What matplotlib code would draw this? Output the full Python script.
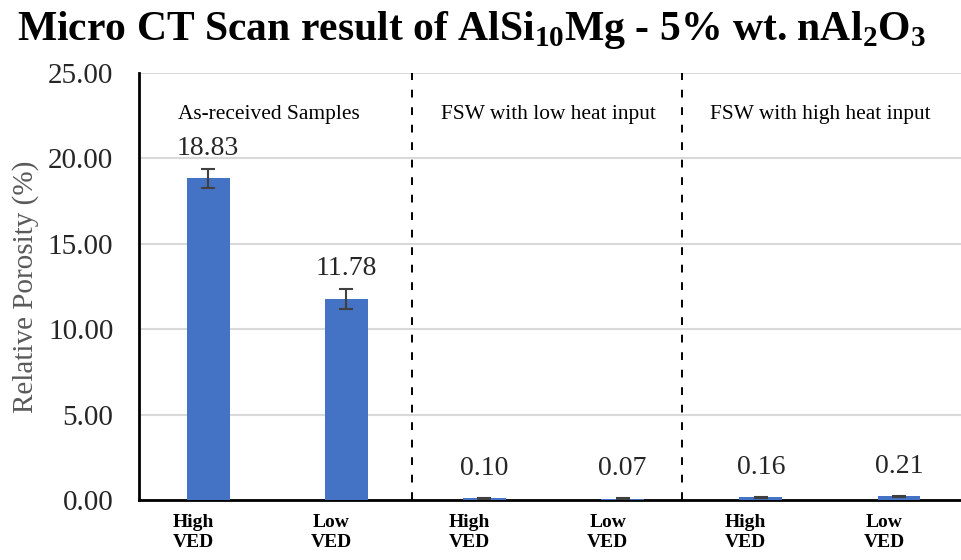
import numpy as np
import matplotlib
matplotlib.use('Agg')
import matplotlib.pyplot as plt
from matplotlib.transforms import ScaledTranslation

# Relative porosity from micro CT, per sample condition
categories = ['High\nVED', 'Low\nVED', 'High\nVED', 'Low\nVED', 'High\nVED', 'Low\nVED']
porosity = [18.83, 11.78, 0.10, 0.07, 0.16, 0.21]
errors = [0.55, 0.60, 0.02, 0.02, 0.03, 0.03]
groups = ['As-received Samples', 'FSW with low heat input', 'FSW with high heat input']
yticks = [0, 5, 10, 15, 20, 25]

plt.rcParams['font.family'] = ['Liberation Serif', 'DejaVu Serif']
plt.rcParams['mathtext.fontset'] = 'custom'
plt.rcParams['mathtext.rm'] = 'Liberation Serif'
plt.rcParams['mathtext.bf'] = 'Liberation Serif:bold'

fig = plt.figure(figsize=(9.62, 5.6), dpi=100)
ax = fig.add_axes([0.1445, 0.1071, 0.8555, 0.7625])

x = np.arange(len(categories))
ax.bar(x, porosity, width=0.31, color='#4472c4', zorder=3)
ax.errorbar(x, porosity, yerr=errors, fmt='none', ecolor='#404040',
            elinewidth=1.5, capsize=5, capthick=1.5, zorder=4)

# Value labels above each bar
for xi, v in zip(x, porosity):
    ax.annotate('{:.2f}'.format(v), (xi, v), xytext=(0, 21.5),
                textcoords='offset points', ha='center', va='center',
                fontsize=20, color='#262626')

# Dashed separators between the three sample groups
for xs in [1.476, 3.43]:
    ax.axvline(xs, color='black', linestyle=(0, (4, 5)), linewidth=1.4, zorder=2)

for xg, g in zip([0.44, 2.46, 4.43], groups):
    ax.text(xg, 22.55, g, ha='center', va='center', fontsize=15.4, color='black')

ax.set_xlim(-0.5, 5.456)
ax.set_ylim(0, 25)
ax.set_yticks(yticks)
ax.set_yticklabels(['{:.2f}'.format(t) for t in yticks], fontsize=21, color='#262626')
ax.set_xticks(x)
ax.set_xticklabels(categories, fontsize=14, fontweight='bold', linespacing=1.25)
ax.tick_params(axis='both', length=0)
ax.tick_params(axis='y', pad=18.5)
ax.tick_params(axis='x', pad=10)

# category labels sit a little left of their bars
shift = ScaledTranslation(-15 / 100, 0, fig.dpi_scale_trans)
for lbl in ax.get_xticklabels():
    lbl.set_transform(lbl.get_transform() + shift)

ax.grid(True, axis='y', color='#d9d9d9', linewidth=1.5, zorder=0)
for side in ['top', 'right']:
    ax.spines[side].set_visible(False)
ax.spines['left'].set_linewidth(2)
ax.spines['bottom'].set_linewidth(2)

ax.set_ylabel('Relative Porosity (%)', fontsize=21, color='#595959')
ax.yaxis.set_label_coords(-0.121, 0.5)

fig.text(472 / 962, 1 - 40 / 560,
         r'Micro CT Scan result of AlSi$_{\mathbf{10}}$Mg - 5% wt. nAl$_{\mathbf{2}}$O$_{\mathbf{3}}$',
         ha='center', va='baseline', fontsize=30, fontweight='bold', color='black')

fig.savefig('out.png', dpi=100)
plt.close(fig)
